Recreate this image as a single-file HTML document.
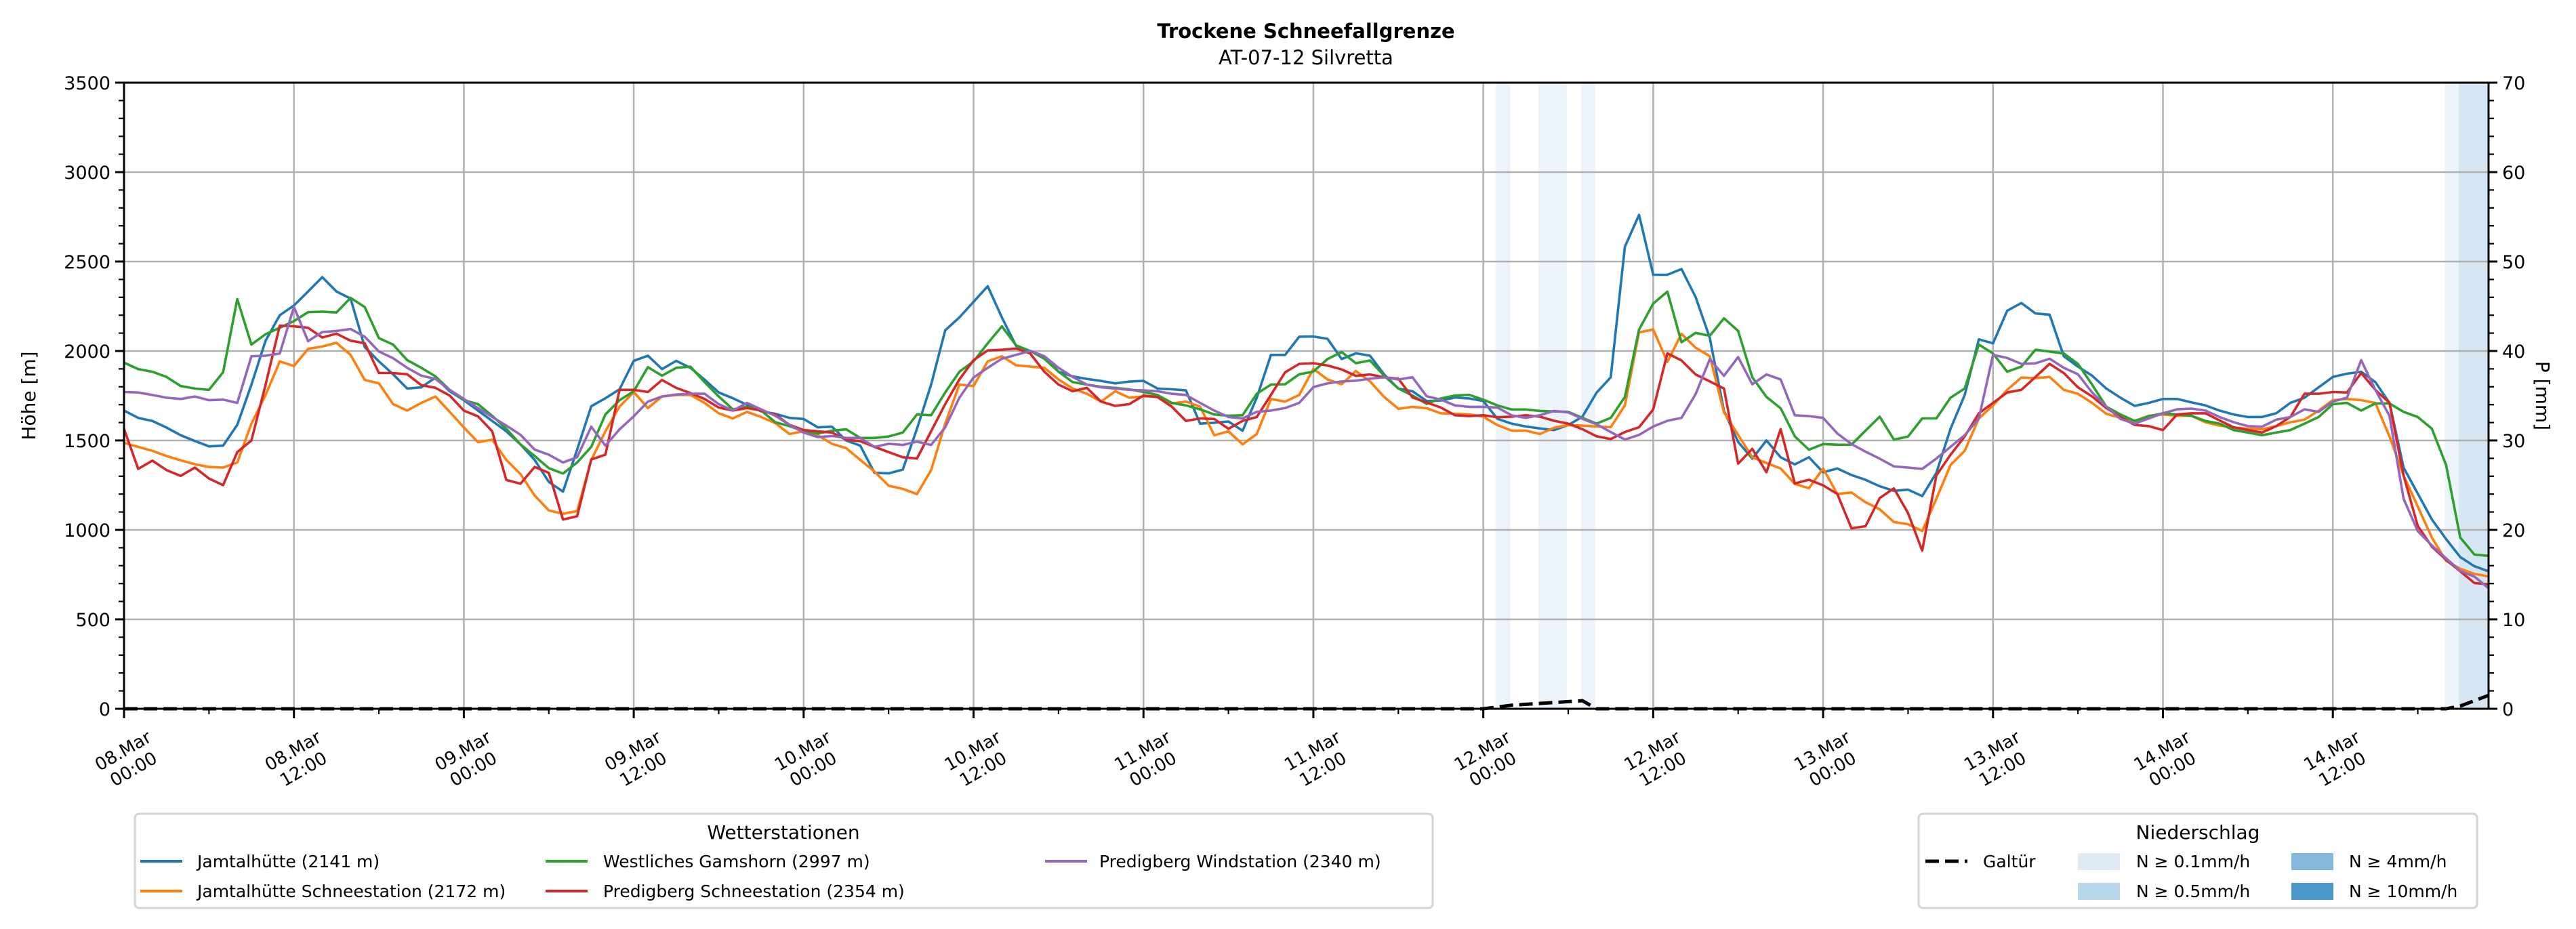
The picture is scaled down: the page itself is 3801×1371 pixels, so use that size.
<!DOCTYPE html>
<html>
<head>
<meta charset="utf-8">
<style>
html,body{margin:0;padding:0;background:#fff;}
svg{display:block;font-family:"DejaVu Sans","Liberation Sans",sans-serif;}
</style>
</head>
<body>
<svg id="chart" width="3801" height="1371" viewBox="0 0 3801 1371" xmlns="http://www.w3.org/2000/svg">
  <rect x="0" y="0" width="3801" height="1371" fill="#fff"/>
  <text x="1927" y="56" text-anchor="middle" font-size="29" font-weight="bold">Trockene Schneefallgrenze</text>
  <text x="1927" y="95" text-anchor="middle" font-size="29">AT-07-12 Silvretta</text>
  <g id="plot"></g>
  <text transform="translate(52,584) rotate(-90)" text-anchor="middle" font-size="28">Höhe [m]</text>
  <text transform="translate(3742,584) rotate(90)" text-anchor="middle" font-size="28">P [mm]</text>

  <g>
    <rect x="199" y="1201" width="1915" height="139" rx="6" fill="#fff" stroke="#d4d4d4" stroke-width="3"/>
    <text x="1156" y="1238" text-anchor="middle" font-size="28">Wetterstationen</text>
    <g><line x1="207" y1="1271" x2="269" y2="1271" stroke="#1f77b4" stroke-width="4"/><text x="291" y="1280" font-size="25">Jamtalhütte (2141 m)</text></g>
    <g><line x1="207" y1="1315" x2="269" y2="1315" stroke="#ff7f0e" stroke-width="4"/><text x="291" y="1324" font-size="25">Jamtalhütte Schneestation (2172 m)</text></g>
    <g><line x1="805" y1="1271" x2="867" y2="1271" stroke="#2ca02c" stroke-width="4"/><text x="890" y="1280" font-size="25">Westliches Gamshorn (2997 m)</text></g>
    <g><line x1="805" y1="1315" x2="867" y2="1315" stroke="#d62728" stroke-width="4"/><text x="890" y="1324" font-size="25">Predigberg Schneestation (2354 m)</text></g>
    <g><line x1="1542" y1="1271" x2="1604" y2="1271" stroke="#9467bd" stroke-width="4"/><text x="1622" y="1280" font-size="25">Predigberg Windstation (2340 m)</text></g>
  </g>

  <g>
    <rect x="2831" y="1201" width="824" height="139" rx="6" fill="#fff" stroke="#d4d4d4" stroke-width="3"/>
    <text x="3243" y="1238" text-anchor="middle" font-size="28">Niederschlag</text>
    <g><line x1="2841" y1="1271" x2="2903" y2="1271" stroke="#000" stroke-width="5" stroke-dasharray="20,9"/><text x="2926" y="1280" font-size="25">Galtür</text></g>
    <g><rect x="3066" y="1259" width="62" height="25" fill="#deebf7"/><text x="3152" y="1280" font-size="25">N ≥ 0.1mm/h</text></g>
    <g><rect x="3066" y="1303" width="62" height="25" fill="#b9d5ea"/><text x="3152" y="1324" font-size="25">N ≥ 0.5mm/h</text></g>
    <g><rect x="3381" y="1259" width="62" height="25" fill="#84b7da"/><text x="3466" y="1280" font-size="25">N ≥ 4mm/h</text></g>
    <g><rect x="3381" y="1303" width="62" height="25" fill="#4a97c9"/><text x="3466" y="1324" font-size="25">N ≥ 10mm/h</text></g>
  </g>
</svg>
<script>
// ---- data ----
const xTickLabels = ["08.Mar|00:00","08.Mar|12:00","09.Mar|00:00","09.Mar|12:00","10.Mar|00:00","10.Mar|12:00","11.Mar|00:00","11.Mar|12:00","12.Mar|00:00","12.Mar|12:00","13.Mar|00:00","13.Mar|12:00","14.Mar|00:00","14.Mar|12:00"];
const yTicks = [0,500,1000,1500,2000,2500,3000,3500];
const y2Ticks = [0,10,20,30,40,50,60,70];
const jamtal = [1667,1626,1609,1572,1529,1497,1467,1471,1587,1812,2058,2200,2254,2333,2413,2333,2293,2022,1942,1870,1790,1797,1852,1775,1725,1667,1609,1551,1478,1391,1268,1214,1449,1691,1736,1786,1945,1974,1899,1945,1906,1840,1768,1736,
1699,1663,1649,1626,1620,1573,1577,1500,1471,1319,1316,1337,1565,1812,2116,2188,2275,2362,2188,2029,2000,1971,1884,1858,1844,1833,1819,1829,1833,1790,1786,1780,1594,1599,1606,1554,1739,1978,1978,2080,
2081,2068,1955,1987,1974,1869,1790,1775,1720,1723,1740,1735,1720,1621,1594,1578,1567,1558,1586,1633,1767,1853,2583,2761,2426,2426,2458,2301,2073,1665,1492,1398,1500,1406,1366,1406,1322,1343,1307,1280,1244,
1218,1225,1189,1319,1565,1754,2065,2043,2225,2268,2210,2203,1971,1913,1862,1790,1739,1693,1710,1732,1732,1713,1696,1667,1645,1631,1631,1652,1710,1739,1797,1855,1873,1884,1826,1710,1348,1203,1058,949,848,797,768];
const jamtalSchnee = [1486,1464,1442,1413,1389,1367,1352,1348,1377,1594,1754,1942,1916,2012,2025,2046,1978,1838,1819,1703,1667,1710,1746,1660,1573,1490,1504,1391,1312,1192,1109,1090,1105,1391,1551,1689,1771,1681,1746,1754,1754,1710,1652,1623,
1660,1631,1597,1536,1551,1529,1481,1457,1391,1326,1247,1229,1200,1334,1594,1812,1804,1942,1971,1920,1913,1906,1841,1790,1761,1717,1775,1739,1746,1746,1707,1717,1689,1529,1551,1478,1536,1732,1717,1754,
1900,1841,1814,1888,1830,1743,1677,1688,1680,1652,1649,1646,1633,1586,1555,1555,1536,1571,1586,1583,1578,1574,1696,2104,2120,1939,2096,2018,1971,1657,1531,1406,1374,1343,1257,1233,1343,1201,1209,1154,1115,
1044,1032,993,1174,1363,1442,1623,1696,1783,1852,1848,1855,1783,1761,1710,1649,1626,1609,1638,1645,1638,1638,1602,1583,1573,1565,1562,1580,1602,1616,1667,1725,1732,1725,1710,1522,1304,1131,957,827,783,754,740];
const gamshorn = [1935,1899,1884,1855,1804,1790,1783,1881,2290,2036,2094,2130,2167,2217,2220,2215,2297,2246,2072,2036,1949,1906,1858,1783,1725,1703,1638,1565,1478,1413,1345,1315,1377,1464,1645,1725,1775,1910,1862,1906,1913,1826,1746,1674,
1688,1667,1602,1580,1551,1539,1554,1562,1514,1514,1522,1544,1645,1641,1768,1884,1942,2043,2138,2032,2000,1957,1884,1826,1812,1800,1794,1786,1771,1754,1710,1696,1674,1645,1638,1641,1761,1812,1814,1870,
1885,1955,1994,1932,1947,1861,1790,1751,1704,1735,1751,1755,1728,1696,1673,1673,1665,1662,1660,1626,1594,1626,1743,2120,2265,2332,2049,2101,2085,2183,2112,1853,1743,1680,1523,1448,1480,1476,1476,1555,1633,
1505,1522,1623,1623,1739,1790,2036,1986,1884,1913,2007,1997,1986,1928,1812,1689,1645,1609,1635,1652,1645,1638,1609,1594,1558,1544,1529,1544,1558,1594,1631,1703,1710,1667,1707,1707,1660,1631,1565,1363,957,862,855];
const predigSchnee = [1565,1341,1387,1334,1302,1348,1287,1250,1435,1500,1812,2142,2138,2130,2075,2097,2058,2043,1877,1877,1870,1809,1794,1751,1667,1635,1551,1279,1258,1352,1319,1058,1076,1394,1420,1783,1783,1771,1838,1794,1765,1732,1684,1667,
1681,1667,1645,1587,1558,1551,1544,1504,1496,1464,1435,1406,1399,1551,1703,1841,1949,2003,2007,2014,1986,1884,1812,1775,1794,1717,1693,1703,1751,1742,1689,1609,1623,1620,1565,1609,1631,1754,1881,1928,
1932,1919,1897,1861,1869,1853,1845,1740,1712,1684,1641,1636,1641,1630,1633,1641,1633,1610,1594,1563,1523,1508,1547,1574,1673,1987,1947,1869,1830,1790,1370,1453,1322,1563,1260,1280,1249,1201,1009,1021,1178,
1232,1094,884,1304,1420,1522,1652,1710,1768,1783,1855,1928,1877,1797,1746,1681,1631,1587,1580,1558,1645,1652,1652,1612,1573,1558,1544,1580,1631,1761,1761,1771,1768,1877,1783,1710,1304,1022,906,833,768,703,696];
const predigWind = [1771,1768,1754,1739,1732,1746,1725,1728,1710,1971,1974,1986,2246,2055,2106,2112,2123,2080,1997,1960,1906,1862,1844,1783,1732,1681,1631,1583,1532,1449,1420,1377,1406,1577,1471,1562,1635,1717,1746,1757,1761,1761,1703,1667,
1710,1674,1638,1587,1544,1519,1525,1514,1514,1464,1481,1475,1493,1475,1573,1739,1852,1906,1957,1978,2000,1971,1906,1855,1812,1797,1790,1783,1780,1775,1761,1754,1710,1667,1631,1623,1660,1667,1681,1710,
1798,1819,1830,1834,1845,1853,1841,1853,1747,1728,1696,1688,1688,1684,1641,1626,1641,1665,1657,1621,1590,1547,1505,1531,1578,1610,1626,1759,1955,1861,1966,1814,1869,1841,1641,1636,1626,1539,1480,1437,1398,
1355,1348,1341,1399,1464,1529,1623,1978,1961,1928,1931,1957,1906,1870,1768,1689,1620,1594,1623,1652,1674,1678,1667,1631,1602,1580,1577,1616,1631,1674,1660,1717,1739,1949,1783,1638,1174,993,913,841,771,739,674];
const galturHours = [0,96,98,100,102,103,104,163,164,165,166,167];
const galturValues = [0,0,0.4,0.6,0.8,0.9,0,0,0,0.3,0.9,1.5];
const rainHours = [97,100,101,103,164,165,166,167];
const rainLevels = [1,1,1,1,1,2,2,2];

// ---- layout ----
const L=183, R=3672, T=122, B=1046, HMAX=167;
const NS="http://www.w3.org/2000/svg";
const plot=document.getElementById('plot');
const xs=h=>L+(R-L)*h/HMAX;
const ys=v=>B-(B-T)*v/3500;
const y2s=p=>B-(B-T)*p/70;
function mk(tag,attrs,parent){const e=document.createElementNS(NS,tag);for(const k in attrs)e.setAttribute(k,attrs[k]);(parent||plot).appendChild(e);return e;}

// precipitation bands
const bandColors={1:"#edf3fa",2:"#d6e6f3",3:"#a9cce4",4:"#7fb2d8"};
rainHours.forEach((h,i)=>{
  const x0=Math.max(L,xs(h-0.1)), x1=Math.min(R,xs(h+0.9));
  const r=mk('rect',{x:x0,y:T,width:x1-x0,height:B-T,fill:bandColors[rainLevels[i]]});
  
  
});

// grid
yTicks.forEach(v=>{const g=mk('line',{x1:L,x2:R,y1:ys(v),y2:ys(v),stroke:"#b0b0b0","stroke-width":2.5});
  
  });
xTickLabels.forEach((s,i)=>{const x=xs(i*12);const g=mk('line',{x1:x,x2:x,y1:T,y2:B,stroke:"#b0b0b0","stroke-width":2.5});
  
  });

// series
const series=[[jamtal,"#1f77b4","series-jamtalhuette"],[jamtalSchnee,"#ff7f0e","series-jamtalhuette-schneestation"],[gamshorn,"#2ca02c","series-gamshorn"],[predigSchnee,"#d62728","series-predigberg-schneestation"],[predigWind,"#9467bd","series-predigberg-windstation"]];
series.forEach(([d,c,n])=>{
  const pts=d.map((v,h)=>xs(h).toFixed(1)+","+ys(v).toFixed(1)).join(" ");
  const p=mk('polyline',{points:pts,fill:"none",stroke:c,"stroke-width":3.6,"stroke-linejoin":"round"});
  
  
});

// Galtür precipitation line
{
  const pts=galturHours.map((h,i)=>xs(h).toFixed(1)+","+y2s(galturValues[i]).toFixed(1)).join(" ");
  const p=mk('polyline',{points:pts,fill:"none",stroke:"#000","stroke-width":5,"stroke-dasharray":"20,9"});
  
  
}

// axes frame
const fr=mk('rect',{x:L,y:T,width:R-L,height:B-T,fill:"none",stroke:"#000","stroke-width":3});



// left ticks
for(let v=0;v<=3500;v+=100){const major=v%500===0;mk('line',{x1:L,x2:L-(major?13:8),y1:ys(v),y2:ys(v),stroke:"#000","stroke-width":major?3:2.2});}
yTicks.forEach(v=>{const t=mk('text',{x:L-20,y:ys(v)+10,"text-anchor":"end","font-size":27});t.textContent=v;
  
  });
// right ticks
for(let p=0;p<=70;p+=2){const major=p%10===0;mk('line',{x1:R,x2:R+(major?13:8),y1:y2s(p),y2:y2s(p),stroke:"#000","stroke-width":major?3:2.2});}
y2Ticks.forEach(p=>{const t=mk('text',{x:R+20,y:y2s(p)+10,"text-anchor":"start","font-size":27});t.textContent=p;
  
  });
// bottom ticks
for(let h=0;h<=HMAX;h+=6){const major=h%12===0;mk('line',{x1:xs(h),x2:xs(h),y1:B,y2:B+(major?14:8),stroke:"#000","stroke-width":major?3:2.2});}
xTickLabels.forEach((s,i)=>{
  const [a,b]=s.split("|");const x=xs(i*12);
  const g=mk('g',{transform:`translate(${x+25},1110) rotate(-30)`});
  
  
  const t1=mk('text',{x:-22,y:-6,"text-anchor":"middle","font-size":26},g);t1.textContent=a;
  const t2=mk('text',{x:-22,y:25,"text-anchor":"middle","font-size":26},g);t2.textContent=b;
});
</script>
</body>
</html>
